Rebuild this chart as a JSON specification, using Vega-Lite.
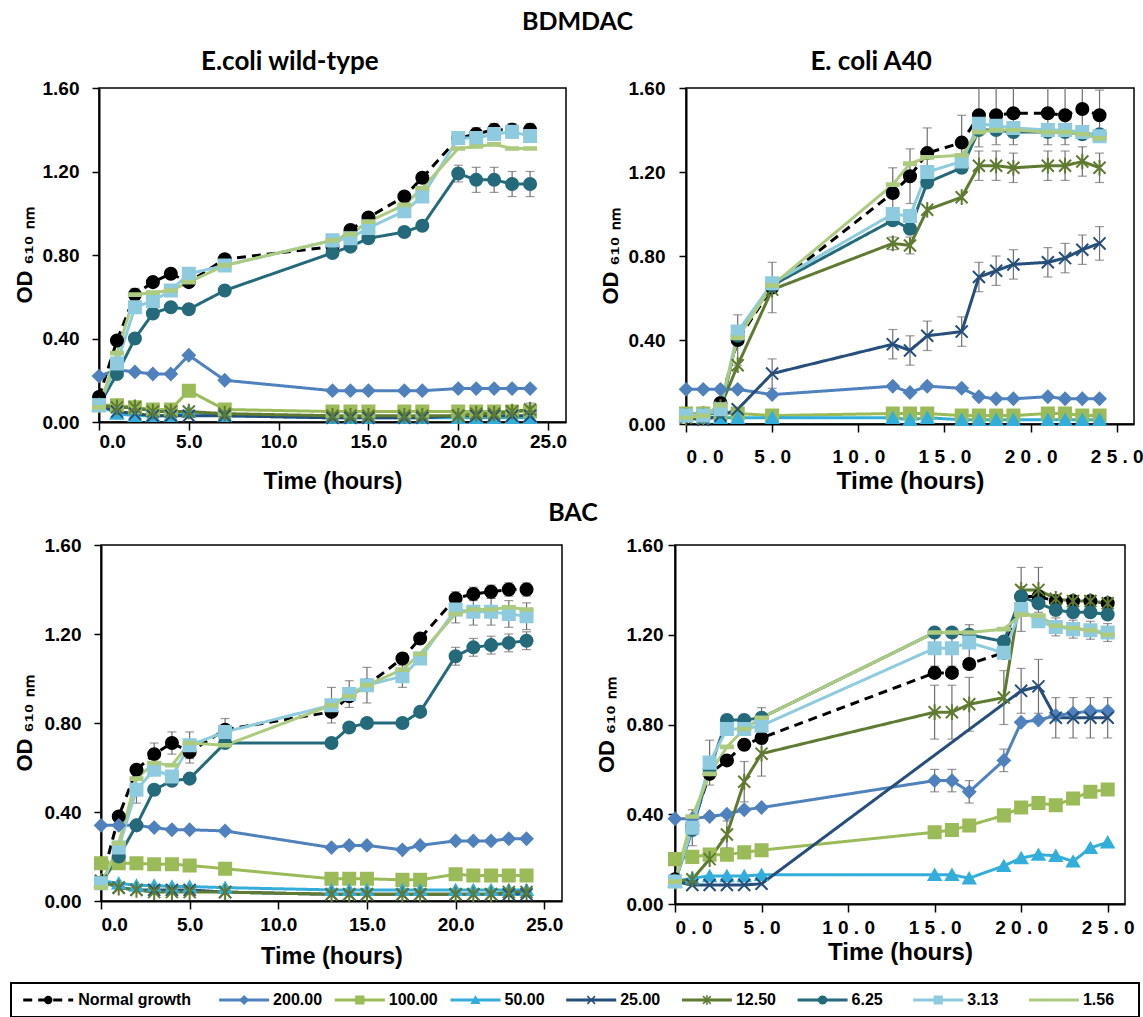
{
"$schema": "https://vega.github.io/schema/vega-lite/v6.json",
"padding": {"left": 10, "top": 10, "right": 0, "bottom": 0},
"data": {"name": "d"},
"datasets": {
"leg": [{"s":"Normal growth"},{"s":"200.00"},{"s":"100.00"},{"s":"50.00"},{"s":"25.00"},{"s":"12.50"},{"s":"6.25"},{"s":"3.13"},{"s":"1.56"}],
"d": [
{"p":"A","s":"Normal growth","t":0,"v":0.12},{"p":"A","s":"Normal growth","t":1,"v":0.39},{"p":"A","s":"Normal growth","t":2,"v":0.61,"e":0.03},{"p":"A","s":"Normal growth","t":3,"v":0.67},{"p":"A","s":"Normal growth","t":4,"v":0.71},{"p":"A","s":"Normal growth","t":5,"v":0.67},{"p":"A","s":"Normal growth","t":7,"v":0.78},{"p":"A","s":"Normal growth","t":13,"v":0.84},{"p":"A","s":"Normal growth","t":14,"v":0.92},{"p":"A","s":"Normal growth","t":15,"v":0.98},{"p":"A","s":"Normal growth","t":17,"v":1.08},{"p":"A","s":"Normal growth","t":18,"v":1.17},{"p":"A","s":"Normal growth","t":20,"v":1.36,"e":0.03},{"p":"A","s":"Normal growth","t":21,"v":1.38,"e":0.03},{"p":"A","s":"Normal growth","t":22,"v":1.40,"e":0.03},{"p":"A","s":"Normal growth","t":23,"v":1.40,"e":0.03},{"p":"A","s":"Normal growth","t":24,"v":1.40,"e":0.03},
{"p":"A","s":"200.00","t":0,"v":0.22},{"p":"A","s":"200.00","t":1,"v":0.25},{"p":"A","s":"200.00","t":2,"v":0.24},{"p":"A","s":"200.00","t":3,"v":0.23},{"p":"A","s":"200.00","t":4,"v":0.23},{"p":"A","s":"200.00","t":5,"v":0.32},{"p":"A","s":"200.00","t":7,"v":0.20},{"p":"A","s":"200.00","t":13,"v":0.15},{"p":"A","s":"200.00","t":14,"v":0.15},{"p":"A","s":"200.00","t":15,"v":0.15},{"p":"A","s":"200.00","t":17,"v":0.15},{"p":"A","s":"200.00","t":18,"v":0.15},{"p":"A","s":"200.00","t":20,"v":0.16},{"p":"A","s":"200.00","t":21,"v":0.16},{"p":"A","s":"200.00","t":22,"v":0.16},{"p":"A","s":"200.00","t":23,"v":0.16},{"p":"A","s":"200.00","t":24,"v":0.16},
{"p":"A","s":"100.00","t":0,"v":0.08},{"p":"A","s":"100.00","t":1,"v":0.08},{"p":"A","s":"100.00","t":2,"v":0.07},{"p":"A","s":"100.00","t":3,"v":0.06},{"p":"A","s":"100.00","t":4,"v":0.06},{"p":"A","s":"100.00","t":5,"v":0.15},{"p":"A","s":"100.00","t":7,"v":0.06},{"p":"A","s":"100.00","t":13,"v":0.05},{"p":"A","s":"100.00","t":14,"v":0.05},{"p":"A","s":"100.00","t":15,"v":0.05},{"p":"A","s":"100.00","t":17,"v":0.05},{"p":"A","s":"100.00","t":18,"v":0.05},{"p":"A","s":"100.00","t":20,"v":0.05},{"p":"A","s":"100.00","t":21,"v":0.05},{"p":"A","s":"100.00","t":22,"v":0.05},{"p":"A","s":"100.00","t":23,"v":0.05},{"p":"A","s":"100.00","t":24,"v":0.05},
{"p":"A","s":"50.00","t":0,"v":0.08},{"p":"A","s":"50.00","t":1,"v":0.04},{"p":"A","s":"50.00","t":2,"v":0.03},{"p":"A","s":"50.00","t":3,"v":0.03},{"p":"A","s":"50.00","t":4,"v":0.03},{"p":"A","s":"50.00","t":5,"v":0.05},{"p":"A","s":"50.00","t":7,"v":0.03},{"p":"A","s":"50.00","t":13,"v":0.02},{"p":"A","s":"50.00","t":14,"v":0.02},{"p":"A","s":"50.00","t":15,"v":0.02},{"p":"A","s":"50.00","t":17,"v":0.02},{"p":"A","s":"50.00","t":18,"v":0.02},{"p":"A","s":"50.00","t":20,"v":0.02},{"p":"A","s":"50.00","t":21,"v":0.02},{"p":"A","s":"50.00","t":22,"v":0.02},{"p":"A","s":"50.00","t":23,"v":0.02},{"p":"A","s":"50.00","t":24,"v":0.02},
{"p":"A","s":"25.00","t":0,"v":0.08},{"p":"A","s":"25.00","t":1,"v":0.05},{"p":"A","s":"25.00","t":2,"v":0.04},{"p":"A","s":"25.00","t":3,"v":0.03},{"p":"A","s":"25.00","t":4,"v":0.03},{"p":"A","s":"25.00","t":5,"v":0.03},{"p":"A","s":"25.00","t":7,"v":0.03},{"p":"A","s":"25.00","t":13,"v":0.02},{"p":"A","s":"25.00","t":14,"v":0.02},{"p":"A","s":"25.00","t":15,"v":0.02},{"p":"A","s":"25.00","t":17,"v":0.02},{"p":"A","s":"25.00","t":18,"v":0.02},{"p":"A","s":"25.00","t":20,"v":0.03},{"p":"A","s":"25.00","t":21,"v":0.03},{"p":"A","s":"25.00","t":22,"v":0.03},{"p":"A","s":"25.00","t":23,"v":0.03},{"p":"A","s":"25.00","t":24,"v":0.03},
{"p":"A","s":"12.50","t":0,"v":0.08},{"p":"A","s":"12.50","t":1,"v":0.07},{"p":"A","s":"12.50","t":2,"v":0.07},{"p":"A","s":"12.50","t":3,"v":0.05},{"p":"A","s":"12.50","t":4,"v":0.05},{"p":"A","s":"12.50","t":5,"v":0.05},{"p":"A","s":"12.50","t":7,"v":0.04},{"p":"A","s":"12.50","t":13,"v":0.03},{"p":"A","s":"12.50","t":14,"v":0.03},{"p":"A","s":"12.50","t":15,"v":0.03},{"p":"A","s":"12.50","t":17,"v":0.03},{"p":"A","s":"12.50","t":18,"v":0.03},{"p":"A","s":"12.50","t":20,"v":0.03},{"p":"A","s":"12.50","t":21,"v":0.04},{"p":"A","s":"12.50","t":22,"v":0.04},{"p":"A","s":"12.50","t":23,"v":0.05},{"p":"A","s":"12.50","t":24,"v":0.06,"e":0.03},
{"p":"A","s":"6.25","t":0,"v":0.08},{"p":"A","s":"6.25","t":1,"v":0.23},{"p":"A","s":"6.25","t":2,"v":0.40},{"p":"A","s":"6.25","t":3,"v":0.52},{"p":"A","s":"6.25","t":4,"v":0.55},{"p":"A","s":"6.25","t":5,"v":0.54},{"p":"A","s":"6.25","t":7,"v":0.63},{"p":"A","s":"6.25","t":13,"v":0.81},{"p":"A","s":"6.25","t":14,"v":0.84},{"p":"A","s":"6.25","t":15,"v":0.88},{"p":"A","s":"6.25","t":17,"v":0.91},{"p":"A","s":"6.25","t":18,"v":0.94},{"p":"A","s":"6.25","t":20,"v":1.19,"e":0.04},{"p":"A","s":"6.25","t":21,"v":1.16,"e":0.06},{"p":"A","s":"6.25","t":22,"v":1.16,"e":0.06},{"p":"A","s":"6.25","t":23,"v":1.14,"e":0.06},{"p":"A","s":"6.25","t":24,"v":1.14,"e":0.06},
{"p":"A","s":"3.13","t":0,"v":0.08},{"p":"A","s":"3.13","t":1,"v":0.28},{"p":"A","s":"3.13","t":2,"v":0.55},{"p":"A","s":"3.13","t":3,"v":0.58},{"p":"A","s":"3.13","t":4,"v":0.63},{"p":"A","s":"3.13","t":5,"v":0.71},{"p":"A","s":"3.13","t":7,"v":0.75},{"p":"A","s":"3.13","t":13,"v":0.87},{"p":"A","s":"3.13","t":14,"v":0.88},{"p":"A","s":"3.13","t":15,"v":0.93},{"p":"A","s":"3.13","t":17,"v":1.01},{"p":"A","s":"3.13","t":18,"v":1.08},{"p":"A","s":"3.13","t":20,"v":1.36,"e":0.03},{"p":"A","s":"3.13","t":21,"v":1.36,"e":0.03},{"p":"A","s":"3.13","t":22,"v":1.38,"e":0.03},{"p":"A","s":"3.13","t":23,"v":1.39,"e":0.03},{"p":"A","s":"3.13","t":24,"v":1.37,"e":0.03},
{"p":"A","s":"1.56","t":0,"v":0.07},{"p":"A","s":"1.56","t":1,"v":0.33},{"p":"A","s":"1.56","t":2,"v":0.61},{"p":"A","s":"1.56","t":3,"v":0.62},{"p":"A","s":"1.56","t":4,"v":0.63},{"p":"A","s":"1.56","t":5,"v":0.67},{"p":"A","s":"1.56","t":7,"v":0.75},{"p":"A","s":"1.56","t":13,"v":0.87},{"p":"A","s":"1.56","t":14,"v":0.90},{"p":"A","s":"1.56","t":15,"v":0.96},{"p":"A","s":"1.56","t":17,"v":1.04},{"p":"A","s":"1.56","t":18,"v":1.12},{"p":"A","s":"1.56","t":20,"v":1.31},{"p":"A","s":"1.56","t":21,"v":1.32},{"p":"A","s":"1.56","t":22,"v":1.33},{"p":"A","s":"1.56","t":23,"v":1.31},{"p":"A","s":"1.56","t":24,"v":1.31},

{"p":"B","s":"Normal growth","t":0,"v":0.05},{"p":"B","s":"Normal growth","t":1,"v":0.05},{"p":"B","s":"Normal growth","t":2,"v":0.10,"e":0.08},{"p":"B","s":"Normal growth","t":3,"v":0.40,"e":0.12},{"p":"B","s":"Normal growth","t":5,"v":0.65,"e":0.12},{"p":"B","s":"Normal growth","t":12,"v":1.10,"e":0.12},{"p":"B","s":"Normal growth","t":13,"v":1.18,"e":0.13},{"p":"B","s":"Normal growth","t":14,"v":1.29,"e":0.12},{"p":"B","s":"Normal growth","t":16,"v":1.34,"e":0.13},{"p":"B","s":"Normal growth","t":17,"v":1.47,"e":0.15},{"p":"B","s":"Normal growth","t":18,"v":1.47,"e":0.14},{"p":"B","s":"Normal growth","t":19,"v":1.48,"e":0.15},{"p":"B","s":"Normal growth","t":21,"v":1.48,"e":0.15},{"p":"B","s":"Normal growth","t":22,"v":1.47,"e":0.14},{"p":"B","s":"Normal growth","t":23,"v":1.50,"e":0.13},{"p":"B","s":"Normal growth","t":24,"v":1.47,"e":0.12},
{"p":"B","s":"200.00","t":0,"v":0.165},{"p":"B","s":"200.00","t":1,"v":0.165},{"p":"B","s":"200.00","t":2,"v":0.165},{"p":"B","s":"200.00","t":3,"v":0.165},{"p":"B","s":"200.00","t":5,"v":0.14},{"p":"B","s":"200.00","t":12,"v":0.18},{"p":"B","s":"200.00","t":13,"v":0.15},{"p":"B","s":"200.00","t":14,"v":0.18},{"p":"B","s":"200.00","t":16,"v":0.17},{"p":"B","s":"200.00","t":17,"v":0.13},{"p":"B","s":"200.00","t":18,"v":0.12},{"p":"B","s":"200.00","t":19,"v":0.12},{"p":"B","s":"200.00","t":21,"v":0.13},{"p":"B","s":"200.00","t":22,"v":0.12},{"p":"B","s":"200.00","t":23,"v":0.12},{"p":"B","s":"200.00","t":24,"v":0.12},
{"p":"B","s":"100.00","t":0,"v":0.05},{"p":"B","s":"100.00","t":1,"v":0.05},{"p":"B","s":"100.00","t":2,"v":0.05},{"p":"B","s":"100.00","t":3,"v":0.05},{"p":"B","s":"100.00","t":5,"v":0.04},{"p":"B","s":"100.00","t":12,"v":0.05},{"p":"B","s":"100.00","t":13,"v":0.05},{"p":"B","s":"100.00","t":14,"v":0.05},{"p":"B","s":"100.00","t":16,"v":0.04},{"p":"B","s":"100.00","t":17,"v":0.04},{"p":"B","s":"100.00","t":18,"v":0.04},{"p":"B","s":"100.00","t":19,"v":0.04},{"p":"B","s":"100.00","t":21,"v":0.05},{"p":"B","s":"100.00","t":22,"v":0.05},{"p":"B","s":"100.00","t":23,"v":0.04},{"p":"B","s":"100.00","t":24,"v":0.04},
{"p":"B","s":"50.00","t":0,"v":0.04},{"p":"B","s":"50.00","t":1,"v":0.03},{"p":"B","s":"50.00","t":2,"v":0.03},{"p":"B","s":"50.00","t":3,"v":0.03},{"p":"B","s":"50.00","t":5,"v":0.03},{"p":"B","s":"50.00","t":12,"v":0.03},{"p":"B","s":"50.00","t":13,"v":0.02},{"p":"B","s":"50.00","t":14,"v":0.03},{"p":"B","s":"50.00","t":16,"v":0.02},{"p":"B","s":"50.00","t":17,"v":0.02},{"p":"B","s":"50.00","t":18,"v":0.02},{"p":"B","s":"50.00","t":19,"v":0.02},{"p":"B","s":"50.00","t":21,"v":0.02},{"p":"B","s":"50.00","t":22,"v":0.02},{"p":"B","s":"50.00","t":23,"v":0.02},{"p":"B","s":"50.00","t":24,"v":0.02},
{"p":"B","s":"25.00","t":0,"v":0.03},{"p":"B","s":"25.00","t":1,"v":0.02},{"p":"B","s":"25.00","t":2,"v":0.04,"e":0.04},{"p":"B","s":"25.00","t":3,"v":0.07},{"p":"B","s":"25.00","t":5,"v":0.24,"e":0.07},{"p":"B","s":"25.00","t":12,"v":0.38,"e":0.07},{"p":"B","s":"25.00","t":13,"v":0.35,"e":0.07},{"p":"B","s":"25.00","t":14,"v":0.42,"e":0.07},{"p":"B","s":"25.00","t":16,"v":0.44,"e":0.07},{"p":"B","s":"25.00","t":17,"v":0.70,"e":0.07},{"p":"B","s":"25.00","t":18,"v":0.73,"e":0.07},{"p":"B","s":"25.00","t":19,"v":0.76,"e":0.07},{"p":"B","s":"25.00","t":21,"v":0.77,"e":0.07},{"p":"B","s":"25.00","t":22,"v":0.79,"e":0.07},{"p":"B","s":"25.00","t":23,"v":0.83,"e":0.07},{"p":"B","s":"25.00","t":24,"v":0.86,"e":0.08},
{"p":"B","s":"12.50","t":0,"v":0.03},{"p":"B","s":"12.50","t":1,"v":0.03},{"p":"B","s":"12.50","t":2,"v":0.08},{"p":"B","s":"12.50","t":3,"v":0.28},{"p":"B","s":"12.50","t":5,"v":0.64},{"p":"B","s":"12.50","t":12,"v":0.86,"e":0.03},{"p":"B","s":"12.50","t":13,"v":0.85,"e":0.04},{"p":"B","s":"12.50","t":14,"v":1.02},{"p":"B","s":"12.50","t":16,"v":1.08},{"p":"B","s":"12.50","t":17,"v":1.23,"e":0.07},{"p":"B","s":"12.50","t":18,"v":1.23,"e":0.07},{"p":"B","s":"12.50","t":19,"v":1.22,"e":0.07},{"p":"B","s":"12.50","t":21,"v":1.23,"e":0.07},{"p":"B","s":"12.50","t":22,"v":1.23,"e":0.07},{"p":"B","s":"12.50","t":23,"v":1.25,"e":0.07},{"p":"B","s":"12.50","t":24,"v":1.22,"e":0.07},
{"p":"B","s":"6.25","t":0,"v":0.04},{"p":"B","s":"6.25","t":1,"v":0.04},{"p":"B","s":"6.25","t":2,"v":0.06},{"p":"B","s":"6.25","t":3,"v":0.42},{"p":"B","s":"6.25","t":5,"v":0.66},{"p":"B","s":"6.25","t":12,"v":0.97},{"p":"B","s":"6.25","t":13,"v":0.93},{"p":"B","s":"6.25","t":14,"v":1.15},{"p":"B","s":"6.25","t":16,"v":1.22},{"p":"B","s":"6.25","t":17,"v":1.40},{"p":"B","s":"6.25","t":18,"v":1.40},{"p":"B","s":"6.25","t":19,"v":1.39},{"p":"B","s":"6.25","t":21,"v":1.39},{"p":"B","s":"6.25","t":22,"v":1.39},{"p":"B","s":"6.25","t":23,"v":1.38},{"p":"B","s":"6.25","t":24,"v":1.38},
{"p":"B","s":"3.13","t":0,"v":0.04},{"p":"B","s":"3.13","t":1,"v":0.04},{"p":"B","s":"3.13","t":2,"v":0.07},{"p":"B","s":"3.13","t":3,"v":0.44},{"p":"B","s":"3.13","t":5,"v":0.67},{"p":"B","s":"3.13","t":12,"v":1.00},{"p":"B","s":"3.13","t":13,"v":0.99},{"p":"B","s":"3.13","t":14,"v":1.20},{"p":"B","s":"3.13","t":16,"v":1.25},{"p":"B","s":"3.13","t":17,"v":1.43},{"p":"B","s":"3.13","t":18,"v":1.42},{"p":"B","s":"3.13","t":19,"v":1.41},{"p":"B","s":"3.13","t":21,"v":1.40},{"p":"B","s":"3.13","t":22,"v":1.40},{"p":"B","s":"3.13","t":23,"v":1.39},{"p":"B","s":"3.13","t":24,"v":1.37},
{"p":"B","s":"1.56","t":0,"v":0.03},{"p":"B","s":"1.56","t":1,"v":0.04},{"p":"B","s":"1.56","t":2,"v":0.09},{"p":"B","s":"1.56","t":3,"v":0.41},{"p":"B","s":"1.56","t":5,"v":0.66},{"p":"B","s":"1.56","t":12,"v":1.14},{"p":"B","s":"1.56","t":13,"v":1.24},{"p":"B","s":"1.56","t":14,"v":1.27},{"p":"B","s":"1.56","t":16,"v":1.28},{"p":"B","s":"1.56","t":17,"v":1.39},{"p":"B","s":"1.56","t":18,"v":1.40},{"p":"B","s":"1.56","t":19,"v":1.40},{"p":"B","s":"1.56","t":21,"v":1.39},{"p":"B","s":"1.56","t":22,"v":1.39},{"p":"B","s":"1.56","t":23,"v":1.38},{"p":"B","s":"1.56","t":24,"v":1.36},

{"p":"C","s":"Normal growth","t":0,"v":0.08},{"p":"C","s":"Normal growth","t":1,"v":0.38},{"p":"C","s":"Normal growth","t":2,"v":0.59},{"p":"C","s":"Normal growth","t":3,"v":0.66,"e":0.05},{"p":"C","s":"Normal growth","t":4,"v":0.71,"e":0.05},{"p":"C","s":"Normal growth","t":5,"v":0.67,"e":0.05},{"p":"C","s":"Normal growth","t":7,"v":0.77},{"p":"C","s":"Normal growth","t":13,"v":0.85},{"p":"C","s":"Normal growth","t":14,"v":0.92},{"p":"C","s":"Normal growth","t":15,"v":0.97},{"p":"C","s":"Normal growth","t":17,"v":1.09},{"p":"C","s":"Normal growth","t":18,"v":1.18},{"p":"C","s":"Normal growth","t":20,"v":1.36,"e":0.03},{"p":"C","s":"Normal growth","t":21,"v":1.38,"e":0.03},{"p":"C","s":"Normal growth","t":22,"v":1.39,"e":0.03},{"p":"C","s":"Normal growth","t":23,"v":1.40,"e":0.03},{"p":"C","s":"Normal growth","t":24,"v":1.40,"e":0.03},
{"p":"C","s":"200.00","t":0,"v":0.34},{"p":"C","s":"200.00","t":1,"v":0.34},{"p":"C","s":"200.00","t":2,"v":0.34},{"p":"C","s":"200.00","t":3,"v":0.33},{"p":"C","s":"200.00","t":4,"v":0.32},{"p":"C","s":"200.00","t":5,"v":0.32},{"p":"C","s":"200.00","t":7,"v":0.315},{"p":"C","s":"200.00","t":13,"v":0.24},{"p":"C","s":"200.00","t":14,"v":0.25},{"p":"C","s":"200.00","t":15,"v":0.25},{"p":"C","s":"200.00","t":17,"v":0.23},{"p":"C","s":"200.00","t":18,"v":0.25},{"p":"C","s":"200.00","t":20,"v":0.27},{"p":"C","s":"200.00","t":21,"v":0.27},{"p":"C","s":"200.00","t":22,"v":0.27},{"p":"C","s":"200.00","t":23,"v":0.28},{"p":"C","s":"200.00","t":24,"v":0.28},
{"p":"C","s":"100.00","t":0,"v":0.17},{"p":"C","s":"100.00","t":1,"v":0.17},{"p":"C","s":"100.00","t":2,"v":0.17},{"p":"C","s":"100.00","t":3,"v":0.165},{"p":"C","s":"100.00","t":4,"v":0.165},{"p":"C","s":"100.00","t":5,"v":0.16},{"p":"C","s":"100.00","t":7,"v":0.145},{"p":"C","s":"100.00","t":13,"v":0.10},{"p":"C","s":"100.00","t":14,"v":0.10},{"p":"C","s":"100.00","t":15,"v":0.10},{"p":"C","s":"100.00","t":17,"v":0.095},{"p":"C","s":"100.00","t":18,"v":0.095},{"p":"C","s":"100.00","t":20,"v":0.12},{"p":"C","s":"100.00","t":21,"v":0.115},{"p":"C","s":"100.00","t":22,"v":0.115},{"p":"C","s":"100.00","t":23,"v":0.115},{"p":"C","s":"100.00","t":24,"v":0.115},
{"p":"C","s":"50.00","t":0,"v":0.09},{"p":"C","s":"50.00","t":1,"v":0.08},{"p":"C","s":"50.00","t":2,"v":0.07},{"p":"C","s":"50.00","t":3,"v":0.07},{"p":"C","s":"50.00","t":4,"v":0.065},{"p":"C","s":"50.00","t":5,"v":0.065},{"p":"C","s":"50.00","t":7,"v":0.06},{"p":"C","s":"50.00","t":13,"v":0.05},{"p":"C","s":"50.00","t":14,"v":0.05},{"p":"C","s":"50.00","t":15,"v":0.05},{"p":"C","s":"50.00","t":17,"v":0.05},{"p":"C","s":"50.00","t":18,"v":0.05},{"p":"C","s":"50.00","t":20,"v":0.05},{"p":"C","s":"50.00","t":21,"v":0.05},{"p":"C","s":"50.00","t":22,"v":0.05},{"p":"C","s":"50.00","t":23,"v":0.05},{"p":"C","s":"50.00","t":24,"v":0.05},
{"p":"C","s":"25.00","t":0,"v":0.09},{"p":"C","s":"25.00","t":1,"v":0.06},{"p":"C","s":"25.00","t":2,"v":0.05},{"p":"C","s":"25.00","t":3,"v":0.05},{"p":"C","s":"25.00","t":4,"v":0.05},{"p":"C","s":"25.00","t":5,"v":0.05},{"p":"C","s":"25.00","t":7,"v":0.04},{"p":"C","s":"25.00","t":13,"v":0.03},{"p":"C","s":"25.00","t":14,"v":0.03},{"p":"C","s":"25.00","t":15,"v":0.03},{"p":"C","s":"25.00","t":17,"v":0.03},{"p":"C","s":"25.00","t":18,"v":0.03},{"p":"C","s":"25.00","t":20,"v":0.03},{"p":"C","s":"25.00","t":21,"v":0.03},{"p":"C","s":"25.00","t":22,"v":0.03},{"p":"C","s":"25.00","t":23,"v":0.03},{"p":"C","s":"25.00","t":24,"v":0.03},
{"p":"C","s":"12.50","t":0,"v":0.09},{"p":"C","s":"12.50","t":1,"v":0.06},{"p":"C","s":"12.50","t":2,"v":0.05},{"p":"C","s":"12.50","t":3,"v":0.04},{"p":"C","s":"12.50","t":4,"v":0.04},{"p":"C","s":"12.50","t":5,"v":0.04},{"p":"C","s":"12.50","t":7,"v":0.04},{"p":"C","s":"12.50","t":13,"v":0.03},{"p":"C","s":"12.50","t":14,"v":0.03},{"p":"C","s":"12.50","t":15,"v":0.03},{"p":"C","s":"12.50","t":17,"v":0.03},{"p":"C","s":"12.50","t":18,"v":0.03},{"p":"C","s":"12.50","t":20,"v":0.03},{"p":"C","s":"12.50","t":21,"v":0.03},{"p":"C","s":"12.50","t":22,"v":0.03},{"p":"C","s":"12.50","t":23,"v":0.04},{"p":"C","s":"12.50","t":24,"v":0.04},
{"p":"C","s":"6.25","t":0,"v":0.08},{"p":"C","s":"6.25","t":1,"v":0.20},{"p":"C","s":"6.25","t":2,"v":0.34},{"p":"C","s":"6.25","t":3,"v":0.50},{"p":"C","s":"6.25","t":4,"v":0.54},{"p":"C","s":"6.25","t":5,"v":0.55},{"p":"C","s":"6.25","t":7,"v":0.71},{"p":"C","s":"6.25","t":13,"v":0.71},{"p":"C","s":"6.25","t":14,"v":0.78},{"p":"C","s":"6.25","t":15,"v":0.80},{"p":"C","s":"6.25","t":17,"v":0.80},{"p":"C","s":"6.25","t":18,"v":0.85},{"p":"C","s":"6.25","t":20,"v":1.10,"e":0.04},{"p":"C","s":"6.25","t":21,"v":1.14,"e":0.04},{"p":"C","s":"6.25","t":22,"v":1.15,"e":0.04},{"p":"C","s":"6.25","t":23,"v":1.16,"e":0.04},{"p":"C","s":"6.25","t":24,"v":1.17,"e":0.04},
{"p":"C","s":"3.13","t":0,"v":0.08},{"p":"C","s":"3.13","t":1,"v":0.24},{"p":"C","s":"3.13","t":2,"v":0.50,"e":0.06},{"p":"C","s":"3.13","t":3,"v":0.59},{"p":"C","s":"3.13","t":4,"v":0.56},{"p":"C","s":"3.13","t":5,"v":0.70,"e":0.06},{"p":"C","s":"3.13","t":7,"v":0.76,"e":0.06},{"p":"C","s":"3.13","t":13,"v":0.88,"e":0.08},{"p":"C","s":"3.13","t":14,"v":0.93,"e":0.06},{"p":"C","s":"3.13","t":15,"v":0.97,"e":0.08},{"p":"C","s":"3.13","t":17,"v":1.01,"e":0.05},{"p":"C","s":"3.13","t":18,"v":1.09},{"p":"C","s":"3.13","t":20,"v":1.31,"e":0.06},{"p":"C","s":"3.13","t":21,"v":1.30,"e":0.06},{"p":"C","s":"3.13","t":22,"v":1.30,"e":0.06},{"p":"C","s":"3.13","t":23,"v":1.29,"e":0.06},{"p":"C","s":"3.13","t":24,"v":1.28,"e":0.06},
{"p":"C","s":"1.56","t":0,"v":0.06},{"p":"C","s":"1.56","t":1,"v":0.26},{"p":"C","s":"1.56","t":2,"v":0.55},{"p":"C","s":"1.56","t":3,"v":0.62},{"p":"C","s":"1.56","t":4,"v":0.61},{"p":"C","s":"1.56","t":5,"v":0.71},{"p":"C","s":"1.56","t":7,"v":0.70},{"p":"C","s":"1.56","t":13,"v":0.88},{"p":"C","s":"1.56","t":14,"v":0.92},{"p":"C","s":"1.56","t":15,"v":0.97},{"p":"C","s":"1.56","t":17,"v":1.04},{"p":"C","s":"1.56","t":18,"v":1.11},{"p":"C","s":"1.56","t":20,"v":1.29},{"p":"C","s":"1.56","t":21,"v":1.31},{"p":"C","s":"1.56","t":22,"v":1.31},{"p":"C","s":"1.56","t":23,"v":1.32},{"p":"C","s":"1.56","t":24,"v":1.31},

{"p":"D","s":"Normal growth","t":0,"v":0.11},{"p":"D","s":"Normal growth","t":1,"v":0.35},{"p":"D","s":"Normal growth","t":2,"v":0.58},{"p":"D","s":"Normal growth","t":3,"v":0.64},{"p":"D","s":"Normal growth","t":4,"v":0.71},{"p":"D","s":"Normal growth","t":5,"v":0.74},{"p":"D","s":"Normal growth","t":15,"v":1.03},{"p":"D","s":"Normal growth","t":16,"v":1.03},{"p":"D","s":"Normal growth","t":17,"v":1.07},{"p":"D","s":"Normal growth","t":19,"v":1.12},{"p":"D","s":"Normal growth","t":20,"v":1.37},{"p":"D","s":"Normal growth","t":21,"v":1.37},{"p":"D","s":"Normal growth","t":22,"v":1.35},{"p":"D","s":"Normal growth","t":23,"v":1.35},{"p":"D","s":"Normal growth","t":24,"v":1.35},{"p":"D","s":"Normal growth","t":25,"v":1.34},
{"p":"D","s":"200.00","t":0,"v":0.38},{"p":"D","s":"200.00","t":1,"v":0.38},{"p":"D","s":"200.00","t":2,"v":0.39},{"p":"D","s":"200.00","t":3,"v":0.40},{"p":"D","s":"200.00","t":4,"v":0.42},{"p":"D","s":"200.00","t":5,"v":0.43},{"p":"D","s":"200.00","t":15,"v":0.55,"e":0.05},{"p":"D","s":"200.00","t":16,"v":0.55,"e":0.05},{"p":"D","s":"200.00","t":17,"v":0.50,"e":0.05},{"p":"D","s":"200.00","t":19,"v":0.64,"e":0.05},{"p":"D","s":"200.00","t":20,"v":0.81},{"p":"D","s":"200.00","t":21,"v":0.82},{"p":"D","s":"200.00","t":22,"v":0.84},{"p":"D","s":"200.00","t":23,"v":0.85},{"p":"D","s":"200.00","t":24,"v":0.86},{"p":"D","s":"200.00","t":25,"v":0.86},
{"p":"D","s":"100.00","t":0,"v":0.20},{"p":"D","s":"100.00","t":1,"v":0.21},{"p":"D","s":"100.00","t":2,"v":0.22},{"p":"D","s":"100.00","t":3,"v":0.22},{"p":"D","s":"100.00","t":4,"v":0.23},{"p":"D","s":"100.00","t":5,"v":0.24},{"p":"D","s":"100.00","t":15,"v":0.32},{"p":"D","s":"100.00","t":16,"v":0.33},{"p":"D","s":"100.00","t":17,"v":0.35},{"p":"D","s":"100.00","t":19,"v":0.395},{"p":"D","s":"100.00","t":20,"v":0.43},{"p":"D","s":"100.00","t":21,"v":0.45},{"p":"D","s":"100.00","t":22,"v":0.44},{"p":"D","s":"100.00","t":23,"v":0.47},{"p":"D","s":"100.00","t":24,"v":0.50},{"p":"D","s":"100.00","t":25,"v":0.51},
{"p":"D","s":"50.00","t":0,"v":0.10},{"p":"D","s":"50.00","t":1,"v":0.115},{"p":"D","s":"50.00","t":2,"v":0.125},{"p":"D","s":"50.00","t":3,"v":0.125},{"p":"D","s":"50.00","t":4,"v":0.125},{"p":"D","s":"50.00","t":5,"v":0.13},{"p":"D","s":"50.00","t":15,"v":0.13},{"p":"D","s":"50.00","t":16,"v":0.13},{"p":"D","s":"50.00","t":17,"v":0.115},{"p":"D","s":"50.00","t":19,"v":0.17},{"p":"D","s":"50.00","t":20,"v":0.205},{"p":"D","s":"50.00","t":21,"v":0.22},{"p":"D","s":"50.00","t":22,"v":0.215},{"p":"D","s":"50.00","t":23,"v":0.19},{"p":"D","s":"50.00","t":24,"v":0.25},{"p":"D","s":"50.00","t":25,"v":0.275},
{"p":"D","s":"25.00","t":0,"v":0.10},{"p":"D","s":"25.00","t":1,"v":0.085},{"p":"D","s":"25.00","t":2,"v":0.085},{"p":"D","s":"25.00","t":3,"v":0.085},{"p":"D","s":"25.00","t":4,"v":0.085},{"p":"D","s":"25.00","t":5,"v":0.09},{"p":"D","s":"25.00","t":20,"v":0.95,"e":0.10},{"p":"D","s":"25.00","t":21,"v":0.97,"e":0.12},{"p":"D","s":"25.00","t":22,"v":0.83,"e":0.09},{"p":"D","s":"25.00","t":23,"v":0.83,"e":0.09},{"p":"D","s":"25.00","t":24,"v":0.83,"e":0.09},{"p":"D","s":"25.00","t":25,"v":0.83,"e":0.09},
{"p":"D","s":"12.50","t":0,"v":0.10},{"p":"D","s":"12.50","t":1,"v":0.11},{"p":"D","s":"12.50","t":2,"v":0.20},{"p":"D","s":"12.50","t":3,"v":0.31,"e":0.06},{"p":"D","s":"12.50","t":4,"v":0.545,"e":0.09},{"p":"D","s":"12.50","t":5,"v":0.67,"e":0.10},{"p":"D","s":"12.50","t":15,"v":0.855,"e":0.12},{"p":"D","s":"12.50","t":16,"v":0.855,"e":0.12},{"p":"D","s":"12.50","t":17,"v":0.89,"e":0.12},{"p":"D","s":"12.50","t":19,"v":0.92,"e":0.12},{"p":"D","s":"12.50","t":20,"v":1.40,"e":0.10},{"p":"D","s":"12.50","t":21,"v":1.40,"e":0.10},{"p":"D","s":"12.50","t":22,"v":1.36},{"p":"D","s":"12.50","t":23,"v":1.35},{"p":"D","s":"12.50","t":24,"v":1.35},{"p":"D","s":"12.50","t":25,"v":1.34},
{"p":"D","s":"6.25","t":0,"v":0.10},{"p":"D","s":"6.25","t":1,"v":0.33},{"p":"D","s":"6.25","t":2,"v":0.60},{"p":"D","s":"6.25","t":3,"v":0.82},{"p":"D","s":"6.25","t":4,"v":0.82},{"p":"D","s":"6.25","t":5,"v":0.83},{"p":"D","s":"6.25","t":15,"v":1.21},{"p":"D","s":"6.25","t":16,"v":1.21},{"p":"D","s":"6.25","t":17,"v":1.20},{"p":"D","s":"6.25","t":19,"v":1.17},{"p":"D","s":"6.25","t":20,"v":1.37},{"p":"D","s":"6.25","t":21,"v":1.34},{"p":"D","s":"6.25","t":22,"v":1.31},{"p":"D","s":"6.25","t":23,"v":1.30},{"p":"D","s":"6.25","t":24,"v":1.30},{"p":"D","s":"6.25","t":25,"v":1.29},
{"p":"D","s":"3.13","t":0,"v":0.10},{"p":"D","s":"3.13","t":1,"v":0.34,"e":0.08},{"p":"D","s":"3.13","t":2,"v":0.63,"e":0.10},{"p":"D","s":"3.13","t":3,"v":0.78},{"p":"D","s":"3.13","t":4,"v":0.78},{"p":"D","s":"3.13","t":5,"v":0.795,"e":0.08},{"p":"D","s":"3.13","t":15,"v":1.14,"e":0.08},{"p":"D","s":"3.13","t":16,"v":1.14,"e":0.08},{"p":"D","s":"3.13","t":17,"v":1.165,"e":0.08},{"p":"D","s":"3.13","t":19,"v":1.12},{"p":"D","s":"3.13","t":20,"v":1.315,"e":0.10},{"p":"D","s":"3.13","t":21,"v":1.26},{"p":"D","s":"3.13","t":22,"v":1.235,"e":0.04},{"p":"D","s":"3.13","t":23,"v":1.225,"e":0.04},{"p":"D","s":"3.13","t":24,"v":1.22,"e":0.04},{"p":"D","s":"3.13","t":25,"v":1.21,"e":0.04},
{"p":"D","s":"1.56","t":0,"v":0.10},{"p":"D","s":"1.56","t":1,"v":0.39},{"p":"D","s":"1.56","t":2,"v":0.58},{"p":"D","s":"1.56","t":3,"v":0.70},{"p":"D","s":"1.56","t":4,"v":0.78},{"p":"D","s":"1.56","t":5,"v":0.83},{"p":"D","s":"1.56","t":15,"v":1.21},{"p":"D","s":"1.56","t":16,"v":1.21},{"p":"D","s":"1.56","t":17,"v":1.21},{"p":"D","s":"1.56","t":19,"v":1.225},{"p":"D","s":"1.56","t":20,"v":1.29},{"p":"D","s":"1.56","t":21,"v":1.285},{"p":"D","s":"1.56","t":22,"v":1.24},{"p":"D","s":"1.56","t":23,"v":1.23},{"p":"D","s":"1.56","t":24,"v":1.22},{"p":"D","s":"1.56","t":25,"v":1.20}
]},
"spacing": 13,
"vconcat": [
{
 "spacing": 7,
 "vconcat": [
 {
  "title": {"text": "BDMDAC", "font": "Lato", "fontSize": 25, "fontWeight": "bold", "anchor": "middle", "offset": 13, "color": "#000"},
  "spacing": 0,
  "hconcat": [
  {"width": 1, "height": 1, "data": {"values": []}, "mark": "point", "view": {"stroke": null}},
  {
   "spacing": 30,
   "hconcat": [
   {
    "width": 467, "height": 334,
    "title": {"text": "E.coli wild-type", "font": "Lato", "fontSize": 26, "fontWeight": "bold", "offset": 4, "frame": "bounds", "color": "#000"},
    "transform": [{"filter": "datum.p == 'A'"}],
    "encoding": {
     "x": {"field": "t", "type": "quantitative", "scale": {"domain": [0, 26], "nice": false}, "axis": {"values": [0,5,10,15,20,25], "format": ".1f", "title": "Time (hours)", "titleFontSize": 23, "tickSize": 8, "labelPadding": 2, "titlePadding": 19}},
     "y": {"field": "v", "type": "quantitative", "scale": {"domain": [0, 1.6], "nice": false}, "axis": {"values": [0,0.4,0.8,1.2,1.6], "format": ".2f", "title": "OD ₆₁₀ ₙₘ", "tickSize": 7, "labelPadding": 13, "titlePadding": 6}}
    },
    "layer": [
     {"transform": [{"filter": "datum.e > 0"}], "mark": {"type": "errorbar", "ticks": {"size": 9}, "color": "#6E6E6E", "thickness": 1.2}, "encoding": {"yError": {"field": "e"}}},
     {"mark": {"type": "line", "strokeWidth": 3}, "encoding": {
       "color": {"field": "s", "type": "nominal", "scale": {"domain": ["Normal growth","200.00","100.00","50.00","25.00","12.50","6.25","3.13","1.56"], "range": ["#000000","#4F81BD","#9BBB59","#33AEDB","#254E7B","#5F7A31","#246A7A","#8ECBDE","#ACCB7F"]}, "legend": null},
       "strokeDash": {"field": "s", "type": "nominal", "scale": {"domain": ["Normal growth","200.00","100.00","50.00","25.00","12.50","6.25","3.13","1.56"], "range": [[9,6],[1,0],[1,0],[1,0],[1,0],[1,0],[1,0],[1,0],[1,0]]}, "legend": null}}},
     {"mark": {"type": "point", "filled": true, "opacity": 1, "size": 145, "strokeWidth": 2}, "encoding": {
       "color": {"field": "s", "type": "nominal", "scale": {"domain": ["Normal growth","200.00","100.00","50.00","25.00","12.50","6.25","3.13","1.56"], "range": ["#000000","#4F81BD","#9BBB59","#33AEDB","#254E7B","#5F7A31","#246A7A","#8ECBDE","#ACCB7F"]}, "legend": null},
       "stroke": {"field": "s", "type": "nominal", "scale": {"domain": ["Normal growth","200.00","100.00","50.00","25.00","12.50","6.25","3.13","1.56"], "range": ["#000000","#4F81BD","#9BBB59","#33AEDB","#254E7B","#5F7A31","#246A7A","#8ECBDE","#ACCB7F"]}, "legend": null},
       "shape": {"field": "s", "type": "nominal", "scale": {"domain": ["Normal growth","200.00","100.00","50.00","25.00","12.50","6.25","3.13","1.56"], "range": ["circle","diamond","square","triangle-up","M-1,-1L1,1M-1,1L1,-1","M-1,-1L1,1M-1,1L1,-1M0,-1.3L0,1.3","circle","square","M-1,-0.22H1V0.22H-1Z"]}, "legend": null}}}
    ]
   },
   {
    "width": 448, "height": 336,
    "title": {"text": "E. coli A40", "font": "Lato", "fontSize": 26, "fontWeight": "bold", "offset": 4, "frame": "bounds", "color": "#000"},
    "transform": [{"filter": "datum.p == 'B'"}],
    "encoding": {
     "x": {"field": "t", "type": "quantitative", "scale": {"domain": [0, 26], "nice": false}, "axis": {"values": [0,5,10,15,20,25], "labelExpr": "join(split(format(datum.value, '.1f'), ''), ' ')", "title": "Time (hours)", "titleFontSize": 24.5, "tickSize": 8, "labelPadding": 15, "titlePadding": 3}},
     "y": {"field": "v", "type": "quantitative", "scale": {"domain": [0, 1.6], "nice": false}, "axis": {"values": [0,0.4,0.8,1.2,1.6], "format": ".2f", "title": "OD ₆₁₀ ₙₘ", "tickSize": 7, "labelPadding": 14, "titlePadding": 6}}
    },
    "layer": [
     {"transform": [{"filter": "datum.e > 0"}], "mark": {"type": "errorbar", "ticks": {"size": 9}, "color": "#6E6E6E", "thickness": 1.2, "clip": true}, "encoding": {"yError": {"field": "e"}}},
     {"mark": {"type": "line", "strokeWidth": 3}, "encoding": {
       "color": {"field": "s", "type": "nominal", "scale": {"domain": ["Normal growth","200.00","100.00","50.00","25.00","12.50","6.25","3.13","1.56"], "range": ["#000000","#4F81BD","#9BBB59","#33AEDB","#254E7B","#5F7A31","#246A7A","#8ECBDE","#ACCB7F"]}, "legend": null},
       "strokeDash": {"field": "s", "type": "nominal", "scale": {"domain": ["Normal growth","200.00","100.00","50.00","25.00","12.50","6.25","3.13","1.56"], "range": [[9,6],[1,0],[1,0],[1,0],[1,0],[1,0],[1,0],[1,0],[1,0]]}, "legend": null}}},
     {"mark": {"type": "point", "filled": true, "opacity": 1, "size": 145, "strokeWidth": 2}, "encoding": {
       "color": {"field": "s", "type": "nominal", "scale": {"domain": ["Normal growth","200.00","100.00","50.00","25.00","12.50","6.25","3.13","1.56"], "range": ["#000000","#4F81BD","#9BBB59","#33AEDB","#254E7B","#5F7A31","#246A7A","#8ECBDE","#ACCB7F"]}, "legend": null},
       "stroke": {"field": "s", "type": "nominal", "scale": {"domain": ["Normal growth","200.00","100.00","50.00","25.00","12.50","6.25","3.13","1.56"], "range": ["#000000","#4F81BD","#9BBB59","#33AEDB","#254E7B","#5F7A31","#246A7A","#8ECBDE","#ACCB7F"]}, "legend": null},
       "shape": {"field": "s", "type": "nominal", "scale": {"domain": ["Normal growth","200.00","100.00","50.00","25.00","12.50","6.25","3.13","1.56"], "range": ["circle","diamond","square","triangle-up","M-1,-1L1,1M-1,1L1,-1","M-1,-1L1,1M-1,1L1,-1M0,-1.3L0,1.3","circle","square","M-1,-0.22H1V0.22H-1Z"]}, "legend": null}}}
    ]
   }
   ]
  }
  ]
 },
 {
  "title": {"text": "BAC", "font": "Lato", "fontSize": 25, "fontWeight": "bold", "anchor": "middle", "offset": 9, "color": "#000"},
  "spacing": 0,
  "hconcat": [
  {"width": 1, "height": 1, "data": {"values": []}, "mark": "point", "view": {"stroke": null}},
  {
   "spacing": 30,
   "hconcat": [
   {
    "width": 461, "height": 356,
    "transform": [{"filter": "datum.p == 'C'"}],
    "encoding": {
     "x": {"field": "t", "type": "quantitative", "scale": {"domain": [0, 26], "nice": false}, "axis": {"values": [0,5,10,15,20,25], "format": ".1f", "title": "Time (hours)", "titleFontSize": 23.5, "tickSize": 8, "labelPadding": 6, "titlePadding": 10}},
     "y": {"field": "v", "type": "quantitative", "scale": {"domain": [0, 1.6], "nice": false}, "axis": {"values": [0,0.4,0.8,1.2,1.6], "format": ".2f", "title": "OD ₆₁₀ ₙₘ", "tickSize": 7, "labelPadding": 13, "titlePadding": 8}}
    },
    "layer": [
     {"transform": [{"filter": "datum.e > 0"}], "mark": {"type": "errorbar", "ticks": {"size": 9}, "color": "#6E6E6E", "thickness": 1.2}, "encoding": {"yError": {"field": "e"}}},
     {"mark": {"type": "line", "strokeWidth": 3}, "encoding": {
       "color": {"field": "s", "type": "nominal", "scale": {"domain": ["Normal growth","200.00","100.00","50.00","25.00","12.50","6.25","3.13","1.56"], "range": ["#000000","#4F81BD","#9BBB59","#33AEDB","#254E7B","#5F7A31","#246A7A","#8ECBDE","#ACCB7F"]}, "legend": null},
       "strokeDash": {"field": "s", "type": "nominal", "scale": {"domain": ["Normal growth","200.00","100.00","50.00","25.00","12.50","6.25","3.13","1.56"], "range": [[9,6],[1,0],[1,0],[1,0],[1,0],[1,0],[1,0],[1,0],[1,0]]}, "legend": null}}},
     {"mark": {"type": "point", "filled": true, "opacity": 1, "size": 145, "strokeWidth": 2}, "encoding": {
       "color": {"field": "s", "type": "nominal", "scale": {"domain": ["Normal growth","200.00","100.00","50.00","25.00","12.50","6.25","3.13","1.56"], "range": ["#000000","#4F81BD","#9BBB59","#33AEDB","#254E7B","#5F7A31","#246A7A","#8ECBDE","#ACCB7F"]}, "legend": null},
       "stroke": {"field": "s", "type": "nominal", "scale": {"domain": ["Normal growth","200.00","100.00","50.00","25.00","12.50","6.25","3.13","1.56"], "range": ["#000000","#4F81BD","#9BBB59","#33AEDB","#254E7B","#5F7A31","#246A7A","#8ECBDE","#ACCB7F"]}, "legend": null},
       "shape": {"field": "s", "type": "nominal", "scale": {"domain": ["Normal growth","200.00","100.00","50.00","25.00","12.50","6.25","3.13","1.56"], "range": ["circle","diamond","square","triangle-up","M-1,-1L1,1M-1,1L1,-1","M-1,-1L1,1M-1,1L1,-1M0,-1.3L0,1.3","circle","square","M-1,-0.22H1V0.22H-1Z"]}, "legend": null}}}
    ]
   },
   {
    "width": 450, "height": 359,
    "transform": [{"filter": "datum.p == 'D'"}],
    "encoding": {
     "x": {"field": "t", "type": "quantitative", "scale": {"domain": [0, 26], "nice": false}, "axis": {"values": [0,5,10,15,20,25], "labelExpr": "join(split(format(datum.value, '.1f'), ''), ' ')", "title": "Time (hours)", "titleFontSize": 24, "tickSize": 8, "labelPadding": 6, "titlePadding": 3}},
     "y": {"field": "v", "type": "quantitative", "scale": {"domain": [0, 1.6], "nice": false}, "axis": {"values": [0,0.4,0.8,1.2,1.6], "format": ".2f", "title": "OD ₆₁₀ ₙₘ", "tickSize": 7, "labelPadding": 5, "titlePadding": 8}}
    },
    "layer": [
     {"transform": [{"filter": "datum.e > 0"}], "mark": {"type": "errorbar", "ticks": {"size": 9}, "color": "#6E6E6E", "thickness": 1.2}, "encoding": {"yError": {"field": "e"}}},
     {"mark": {"type": "line", "strokeWidth": 3}, "encoding": {
       "color": {"field": "s", "type": "nominal", "scale": {"domain": ["Normal growth","200.00","100.00","50.00","25.00","12.50","6.25","3.13","1.56"], "range": ["#000000","#4F81BD","#9BBB59","#33AEDB","#254E7B","#5F7A31","#246A7A","#8ECBDE","#ACCB7F"]}, "legend": null},
       "strokeDash": {"field": "s", "type": "nominal", "scale": {"domain": ["Normal growth","200.00","100.00","50.00","25.00","12.50","6.25","3.13","1.56"], "range": [[9,6],[1,0],[1,0],[1,0],[1,0],[1,0],[1,0],[1,0],[1,0]]}, "legend": null}}},
     {"mark": {"type": "point", "filled": true, "opacity": 1, "size": 145, "strokeWidth": 2}, "encoding": {
       "color": {"field": "s", "type": "nominal", "scale": {"domain": ["Normal growth","200.00","100.00","50.00","25.00","12.50","6.25","3.13","1.56"], "range": ["#000000","#4F81BD","#9BBB59","#33AEDB","#254E7B","#5F7A31","#246A7A","#8ECBDE","#ACCB7F"]}, "legend": null},
       "stroke": {"field": "s", "type": "nominal", "scale": {"domain": ["Normal growth","200.00","100.00","50.00","25.00","12.50","6.25","3.13","1.56"], "range": ["#000000","#4F81BD","#9BBB59","#33AEDB","#254E7B","#5F7A31","#246A7A","#8ECBDE","#ACCB7F"]}, "legend": null},
       "shape": {"field": "s", "type": "nominal", "scale": {"domain": ["Normal growth","200.00","100.00","50.00","25.00","12.50","6.25","3.13","1.56"], "range": ["circle","diamond","square","triangle-up","M-1,-1L1,1M-1,1L1,-1","M-1,-1L1,1M-1,1L1,-1M0,-1.3L0,1.3","circle","square","M-1,-0.22H1V0.22H-1Z"]}, "legend": null}}}
    ]
   }
   ]
  }
  ]
 }
 ]
},
{
 "width": 1128, "height": 34,
 "data": {"name": "leg"},
 "view": {"stroke": "#000000", "strokeWidth": 2},
 "resolve": {"scale": {"x": "independent"}},
 "layer": [
  {
   "transform": [{"filter": "datum.s == 'Normal growth'"}],
   "encoding": {"x": {"field": "s", "type": "nominal", "scale": {"type": "point", "domain": ["Normal growth"], "padding": 1, "align": 0.033}, "axis": null}},
   "layer": [
    {"mark": {"type": "rule", "strokeWidth": 3, "xOffset": -25, "x2Offset": 25}, "encoding": {"x2": {"field": "s"}, "color": {"value": "#000000"}, "strokeDash": {"value": [9, 6]}}},
    {"mark": {"type": "point", "filled": true, "opacity": 1, "size": 70, "shape": "circle", "color": "#000000"}},
    {"mark": {"type": "text", "align": "left", "dx": 30, "fontSize": 16, "fontWeight": "bold", "font": "Liberation Sans", "color": "#000"}, "encoding": {"text": {"field": "s"}}}
   ]
  },
  {
   "transform": [{"filter": "datum.s != 'Normal growth'"}],
   "encoding": {"x": {"field": "s", "type": "nominal", "scale": {"type": "point", "domain": ["_","200.00","100.00","50.00","25.00","12.50","6.25","3.13","1.56"], "padding": 0.875, "align": 0.58}, "axis": null}},
   "layer": [
    {"mark": {"type": "rule", "strokeWidth": 3, "xOffset": -25, "x2Offset": 25}, "encoding": {
      "x2": {"field": "s"},
      "color": {"field": "s", "type": "nominal", "scale": {"domain": ["Normal growth","200.00","100.00","50.00","25.00","12.50","6.25","3.13","1.56"], "range": ["#000000","#4F81BD","#9BBB59","#33AEDB","#254E7B","#5F7A31","#246A7A","#8ECBDE","#ACCB7F"]}, "legend": null}}},
    {"transform": [{"filter": "datum.s != '1.56'"}], "mark": {"type": "point", "filled": true, "opacity": 1, "size": 60, "strokeWidth": 1.5}, "encoding": {
      "color": {"field": "s", "type": "nominal", "scale": {"domain": ["Normal growth","200.00","100.00","50.00","25.00","12.50","6.25","3.13","1.56"], "range": ["#000000","#4F81BD","#9BBB59","#33AEDB","#254E7B","#5F7A31","#246A7A","#8ECBDE","#ACCB7F"]}, "legend": null},
      "stroke": {"field": "s", "type": "nominal", "scale": {"domain": ["Normal growth","200.00","100.00","50.00","25.00","12.50","6.25","3.13","1.56"], "range": ["#000000","#4F81BD","#9BBB59","#33AEDB","#254E7B","#5F7A31","#246A7A","#8ECBDE","#ACCB7F"]}, "legend": null},
      "shape": {"field": "s", "type": "nominal", "scale": {"domain": ["Normal growth","200.00","100.00","50.00","25.00","12.50","6.25","3.13","1.56"], "range": ["circle","diamond","square","triangle-up","M-1,-1L1,1M-1,1L1,-1","M-1,-1L1,1M-1,1L1,-1M0,-1.3L0,1.3","circle","square","M-1,-0.22H1V0.22H-1Z"]}, "legend": null}}},
    {"mark": {"type": "text", "align": "left", "dx": 29, "fontSize": 16, "fontWeight": "bold", "font": "Liberation Sans", "color": "#000"}, "encoding": {"text": {"field": "s"}}}
   ]
  }
 ]
}
],
"config": {
 "font": "Liberation Sans",
 "view": {"stroke": "#000000", "strokeWidth": 1.5},
 "axis": {"grid": false, "domainColor": "#000", "domainWidth": 2, "tickColor": "#000", "tickWidth": 1.5, "labelColor": "#000", "labelFont": "Liberation Sans", "labelFontSize": 19, "labelFontWeight": "bold", "titleColor": "#000", "titleFont": "Liberation Sans", "titleFontSize": 22, "titleFontWeight": "bold"},
 "axisY": {"labelFontSize": 19}
}
}
